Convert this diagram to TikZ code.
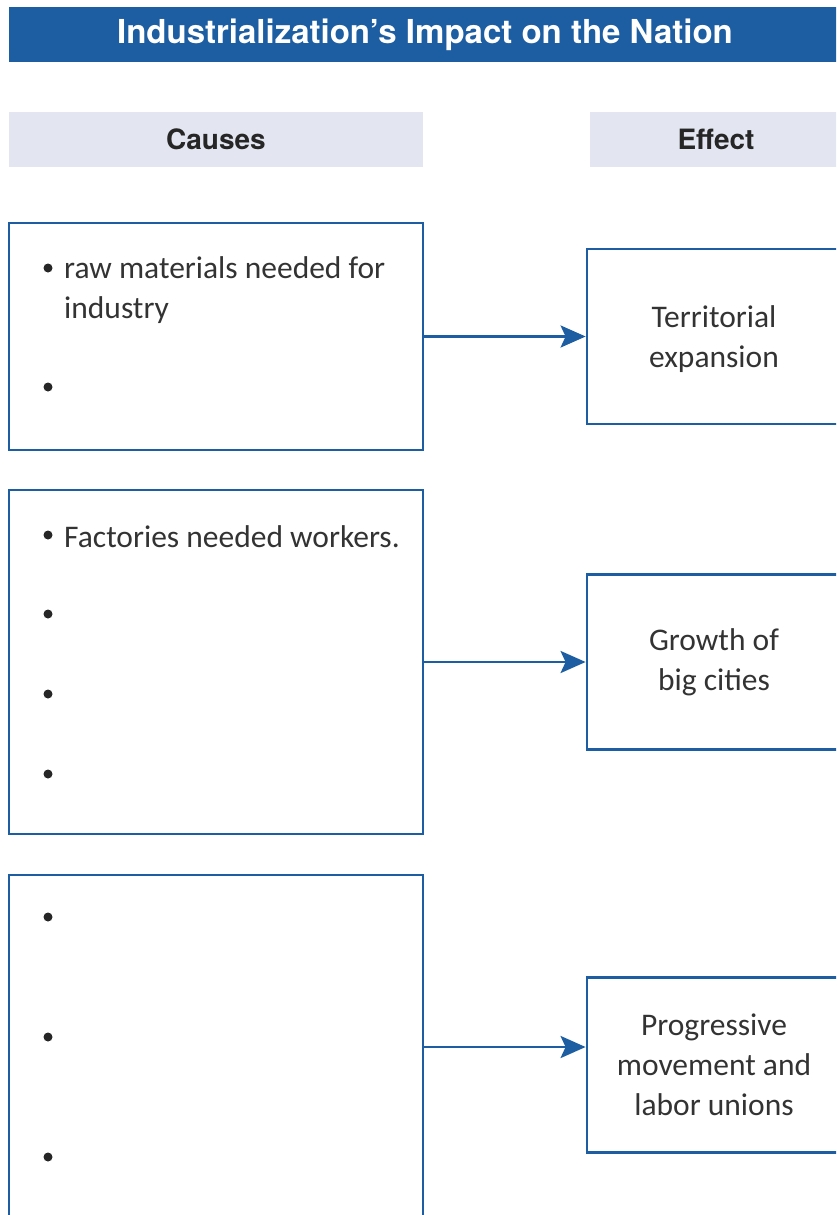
\documentclass[tikz,border=0pt]{standalone}
\usepackage{fontspec}
\setmainfont{TeX Gyre Heros}
\newfontfamily\handfont{Carlito}
\usetikzlibrary{arrows.meta,positioning,calc}
\definecolor{chartblue}{HTML}{1D5DA2}
\definecolor{headfill}{HTML}{E3E6F1}
\definecolor{inkgray}{HTML}{333333}

\begin{document}
\begin{tikzpicture}[x=1pt, y=-1pt,
    banner/.style={fill=chartblue, text=white, inner sep=0pt,
        minimum width=832pt, minimum height=55pt,
        font=\bfseries\fontsize{33}{38}\selectfont},
    colhead/.style={fill=headfill, text=black!85, inner sep=0pt,
        minimum height=55pt, font=\bfseries\fontsize{28}{32}\selectfont},
    causebox/.style={draw=chartblue, line width=2.8pt, inner sep=0pt,
        minimum width=414pt},
    effectbox/.style={draw=chartblue, line width=2.8pt, text=inkgray,
        minimum width=254pt, minimum height=175pt, align=center,
        font=\handfont\fontsize{31.5}{40}\selectfont},
    dot/.style={circle, fill=black!85, inner sep=0pt, minimum size=9pt},
    entry/.style={anchor=west, inner sep=0pt, text=inkgray, align=left,
        font=\handfont\fontsize{31.5}{40}\selectfont},
    link/.style={draw=chartblue, line width=2.8pt,
        -{Stealth[length=25pt, width=22pt, inset=5pt]}}
]
    \useasboundingbox (0,0) rectangle (836,1215);
    \clip (0,0) rectangle (836,1215);

    % title and column heads
    \node[banner] (title) at (425,34.5) {Industrialization’s Impact on the Nation};
    \node[colhead, minimum width=414pt] (causes) at (216,139.5) {Causes};
    \node[colhead, minimum width=252pt] (effect) at (716,139.5) {Effect};

    % first row
    \node[causebox, minimum height=227pt] (c1) at (216,336.5) {};
    \node[dot] (d11) at (48,268) {};
    \node[entry] (t11) at (64,290) {raw materials needed for\\industry};
    \node[dot] (d12) at (48,387) {};
    \node[effectbox, text depth=0pt] (e1) at (714,336.5) {Territorial\\expansion};
    \draw[link] (c1.east) -- (e1.west);

    % second row
    \node[causebox, minimum height=344pt] (c2) at (216,662) {};
    \node[dot] (d21) at (48,535) {};
    \node[entry] (t21) at (64,537) {Factories needed workers.};
    \node[dot] (d22) at (48,614) {};
    \node[dot] (d23) at (48,694) {};
    \node[dot] (d24) at (48,774) {};
    \node[effectbox] (e2) at (714,662) {Growth of\\big cities};
    \draw[link] (c2.east) -- (e2.west);

    % third row
    \node[causebox, minimum height=344pt] (c3) at (216,1047) {};
    \node[dot] (d31) at (48,917) {};
    \node[dot] (d32) at (48,1037) {};
    \node[dot] (d33) at (48,1157) {};
    \node[effectbox] (e3) at (714,1065) {Progressive\\movement and\\labor unions};
    \draw[link] (c3.east) -- (c3.east -| e3.west);
\end{tikzpicture}
\end{document}
